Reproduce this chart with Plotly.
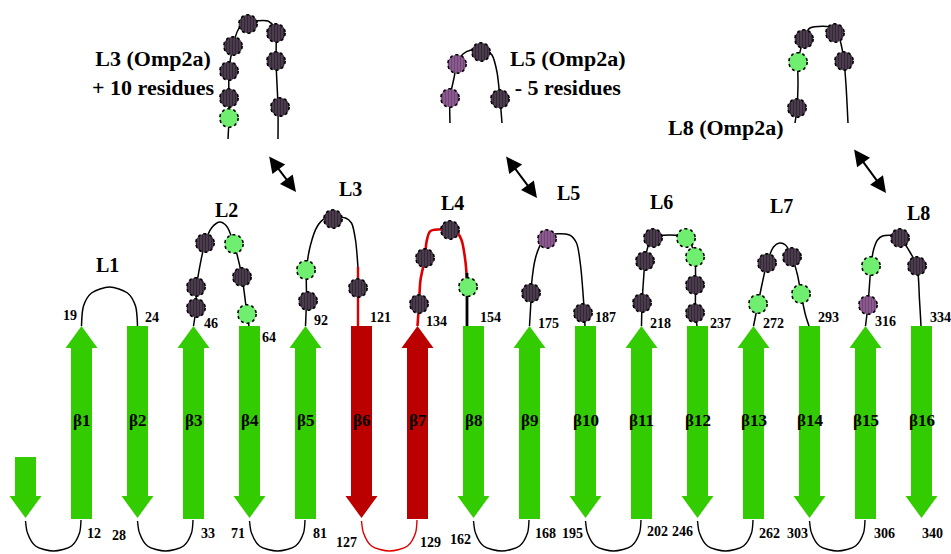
import numpy as np
import plotly.graph_objects as go

# ------------------------------------------------------------------ data
strand_labels = ["β1", "β2", "β3", "β4", "β5", "β6", "β7", "β8",
                 "β9", "β10", "β11", "β12", "β13", "β14", "β15", "β16"]
strand_group = ["core", "core", "core", "core", "core", "hl", "hl", "core",
                "core", "core", "core", "core", "core", "core", "core", "core"]
strand_top_residue = [19, 24, 46, 64, 92, 121, 134, 154,
                      175, 187, 218, 237, 272, 293, 316, 334]
strand_bottom_residue = [12, 28, 33, 71, 81, 127, 129, 162,
                         168, 195, 202, 246, 262, 303, 306, 340]
loop_labels = ["L1", "L2", "L3", "L4", "L5", "L6", "L7", "L8"]
loop_residue_types = [
    [],
    ["D", "G", "D", "D", "D", "G"],
    ["G", "D", "D", "D"],
    ["D", "D", "D", "G"],
    ["D", "P", "D"],
    ["D", "G", "D", "G", "D", "D", "D"],
    ["G", "D", "D", "G"],
    ["P", "G", "D", "D"],
]
inset_titles = ["L3 (Omp2a)<br>+ 10 residues", "L5 (Omp2a)<br>- 5 residues", "L8 (Omp2a)"]
inset_residue_types = [
    ["D", "D", "D", "D", "D", "D", "D", "G"],
    ["D", "P", "P", "D"],
    ["D", "D", "G", "D", "D"],
]

# ------------------------------------------------------------------ styles
W, H = 951, 554
FONT = "Liberation Serif"
COL = {"core": "#33cc00", "hl": "#bb0000"}
RES_FILL = {"D": "#4a3b4d", "G": "#70ee70", "P": "#8a5a8f"}
RES_FG = {"D": "#1c141e", "G": "#70ee70", "P": "#5a2f60"}

# ------------------------------------------------------------------ geometry (pixel space)
X0, DX = 25.5, 56.0
TOP, BOT = 326.0, 519.0
BODY_HW, HEAD_HW, HEAD_L = 10.5, 16.0, 22.0
R = 9.3

def sx(i):  # i = 1..16 ; 0 = N-terminal stub
    return X0 + DX * i

top_lab = [(-2.5, 315, "right"), (5.5, 317, "left"), (8.5, 323, "left"), (10.5, 337, "left"),
           (6.5, 320, "left"), (6.5, 317, "left"), (6.5, 321, "left"), (4.5, 317, "left"),
           (6.5, 323, "left"), (7.5, 317, "left"), (6.5, 323, "left"), (10.5, 323, "left"),
           (7.5, 323, "left"), (6.5, 317, "left"), (7.5, 321, "left"), (6.5, 317, "left")]
bot_lab = [(3.5, 533, "left"), (-9.5, 535, "right"), (5.5, 533, "left"), (-2.5, 533, "right"),
           (5.5, 533, "left"), (-2.5, 542, "right"), (0.5, 542, "left"), (-0.5, 539, "right"),
           (3.5, 533, "left"), (-0.5, 533, "right"), (3.5, 531, "left"), (-2.5, 531, "right"),
           (3.5, 533, "left"), (0.0, 533, "right"), (6.5, 533, "left"), (-1.5, 533, "left")]

# loop paths: (dx from left strand, y)
loop_paths = [
    [(0, 326), (2, 306), (10, 293), (28, 287), (46, 293), (54, 306), (56, 326)],
    [(0, 326), (2.5, 308), (3, 287), (11.5, 243), (18, 228), (26, 222), (33, 226),
     (40.5, 244), (48.5, 277), (53.5, 314), (55.5, 326)],
    [(0, 326), (1, 300), (1, 270), (5, 245), (12, 226), (20, 218), (40, 218),
     (46, 223), (50, 240), (52.5, 268)],
    [(0, 326), (1.5, 304), (3, 280), (7.5, 258), (9, 242), (13, 231), (38, 231),
     (44, 240), (48, 262), (49.5, 282)],
    [(0, 326), (1.5, 300), (2, 285), (6, 258), (12, 243), (20, 235), (40, 235),
     (47, 243), (51, 265), (54, 300), (55.5, 326)],
    [(0, 326), (0.5, 305), (2, 280), (3.5, 261), (7, 245), (12, 237), (44.5, 237),
     (50, 245), (53.5, 257), (54, 285), (54, 313), (55.5, 326)],
    [(0, 326), (4.5, 304), (9, 282), (13.5, 263), (20, 247), (26, 243), (32, 245),
     (38.5, 257), (44, 275), (47.5, 294), (52, 315), (55.5, 326)],
    [(0, 326), (2.5, 305), (5.5, 266), (8, 250), (12, 240), (17, 236), (30, 236),
     (37, 241), (45, 253), (51.5, 266), (54, 300), (55.5, 326)],
]
loop_circles = [
    [],
    [(11.5, 243), (40.5, 244), (2.5, 287), (48.5, 277), (2.5, 308), (53.5, 314)],
    [(0.5, 270), (2.5, 301), (27.5, 219), (52.5, 288)],
    [(1.5, 304), (7.5, 258), (32.5, 230), (50.5, 287)],
    [(1.5, 293), (17.5, 239), (53.5, 313)],
    [(11.5, 238), (44.5, 238), (3.5, 261), (53.5, 257), (0.5, 303), (53.5, 285), (53.5, 313)],
    [(4.5, 304), (13.5, 263), (38.5, 257), (47.5, 294)],
    [(2.5, 305), (5.5, 266), (34.5, 238), (51.5, 266)],
]
loop_label_pos = [(26, 265), (32.5, 210), (44.5, 189), (34.5, 203), (38.5, 193),
                  (19.5, 202), (27.5, 206), (52.5, 213)]

inset_paths = [
    [(228, 139), (229, 118), (229, 98), (229, 71), (233, 46), (238, 30), (245, 22),
     (255, 21), (268, 21), (274, 27), (276, 33), (276, 61), (278, 107), (278, 139)],
    [(450, 123), (450, 98), (454, 78), (457, 64), (463, 54), (471, 50), (486, 50),
     (492, 55), (497, 72), (500, 99), (502, 123)],
    [(795, 123), (797, 108), (798, 85), (798, 62), (801, 48), (804, 38), (810, 28),
     (835, 28), (840, 40), (844, 61), (846, 85), (848, 123)],
]
inset_circles = [
    [(248, 24), (276, 33), (233, 46), (276, 61), (229, 71), (229, 98), (280, 107), (229, 118)],
    [(481, 52), (457, 64), (450, 98), (500, 99)],
    [(804, 39), (835, 33), (798, 62), (844, 61), (797, 108)],
]
inset_title_pos = [(153, 73, "center"), (568, 73, "center"), (726, 127, "center")]
inset_arrows = [((268, 155), (296, 192)), ((505, 155), (537, 198)), ((853, 148), (886, 193))]

fig = go.Figure()

def poly(xs, ys, color):
    fig.add_trace(go.Scatter(x=list(xs) + [xs[0]], y=list(ys) + [ys[0]], mode="lines",
                             fill="toself", fillcolor=color, line=dict(width=0, color=color),
                             hoverinfo="skip", showlegend=False))

def arrow(cx, top, bottom, up, color):
    if up:
        xs = [cx, cx + HEAD_HW, cx + BODY_HW, cx + BODY_HW, cx - BODY_HW, cx - BODY_HW, cx - HEAD_HW]
        ys = [top, top + HEAD_L, top + HEAD_L, bottom, bottom, top + HEAD_L, top + HEAD_L]
    else:
        hb = bottom - HEAD_L
        xs = [cx - BODY_HW, cx + BODY_HW, cx + BODY_HW, cx + HEAD_HW, cx, cx - HEAD_HW, cx - BODY_HW]
        ys = [top, top, hb, hb, bottom, hb, hb]
    poly(xs, ys, color)

def line(pts, color="black", width=1.5, spline=True):
    fig.add_trace(go.Scatter(x=[p[0] for p in pts], y=[p[1] for p in pts], mode="lines",
                             line=dict(color=color, width=width,
                                       shape="spline" if spline else "linear", smoothing=0.8),
                             hoverinfo="skip", showlegend=False))

def residue(cx, cy, kind):
    t = np.linspace(0, 2 * np.pi, 49)
    xs, ys = cx + R * np.cos(t), cy + R * np.sin(t)
    pat = None
    if kind != "G":
        pat = dict(shape="|", fgcolor=RES_FG[kind], bgcolor=RES_FILL[kind], size=3, solidity=0.35)
    fig.add_trace(go.Scatter(x=xs, y=ys, mode="lines", fill="toself", fillcolor=RES_FILL[kind],
                             fillpattern=pat,
                             line=dict(color="black", width=1.6, dash="dot"),
                             hoverinfo="skip", showlegend=False))

# strands
arrow(sx(0), 457, 518, False, COL["core"])
for k in range(16):
    i = k + 1
    up = (i % 2 == 1)
    arrow(sx(i), TOP, BOT if up else 518, up, COL[strand_group[k]])

# bottom turns (stub->β1, β2->β3, ..., β14->β15)
for i in range(0, 16, 2):
    left = sx(i)
    col = "#dd0000" if (i > 0 and strand_group[i - 1] == "hl") else "black"
    pts = [(left, 521), (left + 2, 533), (left + 10, 546), (left + 28, 551),
           (left + 46, 546), (left + 54, 533), (left + 55.5, 520)]
    line(pts, col, 1.4)

# top loops
for j in range(8):
    left = sx(2 * j + 1)
    pts = [(left + a, b) for a, b in loop_paths[j]]
    if j == 3:
        line(pts, "#dd0000", 2.6)
        line([(left + 49.5, 273), (left + 49.5, 326)], "black", 2.8, spline=False)
    else:
        line(pts, "black", 1.5)
    if j == 2:
        line([(left + 52.5, 267), (left + 52.5, 326)], "#dd0000", 2.4, spline=False)
for j in range(8):
    left = sx(2 * j + 1)
    for (a, b), kind in zip(loop_circles[j], loop_residue_types[j]):
        residue(left + a, b, kind)

# insets
for k in range(3):
    line(inset_paths[k], "black", 1.5)
    for (a, b), kind in zip(inset_circles[k], inset_residue_types[k]):
        residue(a, b, kind)

ann = []
def txt(x, y, s, size, xanchor="center"):
    ann.append(dict(x=x, y=y, xref="x", yref="y", text=s, showarrow=False,
                    xanchor=xanchor, yanchor="middle",
                    font=dict(family=FONT, size=size, color="black")))

for k in range(16):
    cx = sx(k + 1)
    txt(cx, 420, "<b>%s</b>" % strand_labels[k], 17)
    dx, y, anc = top_lab[k]
    txt(cx + dx, y, "<b>%d</b>" % strand_top_residue[k], 14, anc)
    dx, y, anc = bot_lab[k]
    txt(cx + dx, y, "<b>%d</b>" % strand_bottom_residue[k], 14, anc)

for j in range(8):
    a, b = loop_label_pos[j]
    txt(sx(2 * j + 1) + a, b, "<b>%s</b>" % loop_labels[j], 20)

for k in range(3):
    x, y, anc = inset_title_pos[k]
    ann.append(dict(x=x, y=y, xref="x", yref="y", text="<b>%s</b>" % inset_titles[k],
                    showarrow=False, xanchor=anc, yanchor="middle", align="center",
                    font=dict(family=FONT, size=22, color="black")))
    (x1, y1), (x2, y2) = inset_arrows[k]
    ann.append(dict(x=x2, y=y2, ax=x1, ay=y1, xref="x", yref="y", axref="x", ayref="y",
                    text="", showarrow=True, arrowhead=2, arrowside="end+start",
                    arrowwidth=2, arrowsize=1.6, arrowcolor="black"))

fig.update_layout(
    width=W, height=H, margin=dict(l=0, r=0, t=0, b=0),
    paper_bgcolor="white", plot_bgcolor="white",
    xaxis=dict(range=[0, W], visible=False, fixedrange=True),
    yaxis=dict(range=[H, 0], visible=False, fixedrange=True),
    annotations=ann, showlegend=False,
)
fig.write_html("out.html", config={"displayModeBar": False},
               post_script="document.body.style.margin='0';document.body.style.overflow='hidden';")
